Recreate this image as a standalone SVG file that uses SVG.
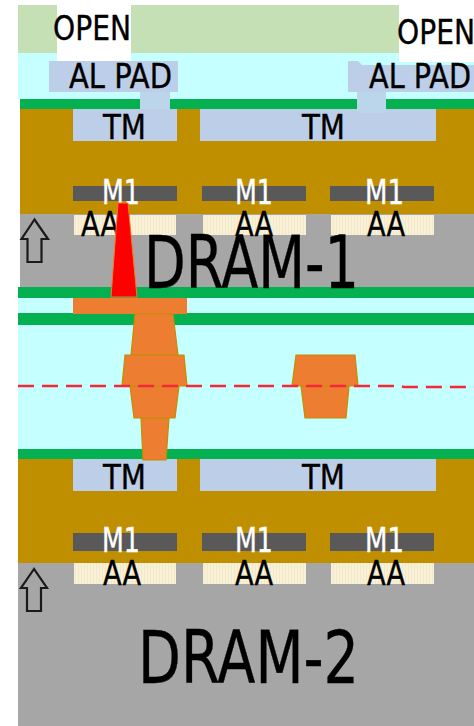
<svg xmlns="http://www.w3.org/2000/svg" width="474" height="726" viewBox="0 0 474 726">
<style>
text{font-family:"DejaVu Sans","Noto Sans",sans-serif;fill:#000;stroke:#000;stroke-width:.4px}
.t{font-size:34px}
.w{fill:#fff;stroke:#fff}
.big{font-size:73px}
.g{fill:#05B050}
.c{fill:#C5FFFF}
.b{fill:#BF8F00}
.y{fill:#A6A6A6}
.tm{fill:#BDCFE8}
.m{fill:#595959}
.aa{fill:url(#stripes)}
.o{fill:#ED7D31;stroke:#BF9000;stroke-width:1.2}
.a{fill:none;stroke:#1A1A1A;stroke-width:2.200}
</style>
<defs>
<pattern id="stripes" width="3" height="4" patternUnits="userSpaceOnUse">
<rect width="3" height="4" fill="#F9F0D8"/>
<rect width="1" height="4" fill="#F3E8C8"/>
</pattern>
</defs>
<rect width="474" height="726" fill="#fff"/>
<g id="top-layers">
<rect x="18" y="5" width="456" height="48" fill="#C5E0B4"/>
<rect class="c" x="18" y="53" width="456" height="46"/>
<rect x="57" y="5" width="74" height="57" fill="#fff"/>
<rect x="399" y="5" width="75" height="57" fill="#fff"/>
<rect class="tm" x="49" y="61" width="129" height="31"/>
<path class="tm" d="M348 61H358L362 65H474V92H348Z"/>
<rect class="b" x="20" y="109" width="454" height="105"/>
<rect class="g" x="20" y="99" width="454" height="10"/>
<rect class="tm" x="73" y="109" width="104" height="32"/>
<rect class="tm" x="200" y="109" width="236" height="32"/>
<rect x="140" y="92" width="30" height="17" fill="#BBD5EA"/>
<rect x="357" y="92" width="29" height="21" fill="#BBD5EA"/>
<rect class="m" x="73" y="186" width="104" height="15"/>
<rect class="m" x="202" y="186" width="104" height="15"/>
<rect class="m" x="330" y="186" width="104" height="15"/>
<rect class="y" x="20" y="214" width="454" height="73"/>
<rect class="aa" x="74" y="215" width="102" height="20"/>
<rect class="aa" x="203" y="215" width="103" height="20"/>
<rect class="aa" x="331" y="215" width="103" height="20"/>
</g>
<g id="middle-layers">
<rect class="c" x="18" y="298" width="456" height="151"/>
<rect class="g" x="18" y="287" width="456" height="11"/>
<rect class="g" x="18" y="313" width="456" height="12"/>
<rect class="g" x="18" y="449" width="456" height="10"/>
</g>
<g id="bottom-layers">
<rect class="b" x="18" y="459" width="456" height="104"/>
<rect class="y" x="18" y="563" width="456" height="163"/>
<rect class="tm" x="73" y="459" width="104" height="32"/>
<rect class="tm" x="200" y="459" width="236" height="32"/>
<rect class="m" x="73" y="533" width="104" height="18"/>
<rect class="m" x="202" y="533" width="104" height="18"/>
<rect class="m" x="330" y="533" width="104" height="18"/>
<rect class="aa" x="74" y="563" width="102" height="21"/>
<rect class="aa" x="203" y="563" width="103" height="21"/>
<rect class="aa" x="331" y="563" width="103" height="21"/>
</g>
<g id="labels">
<text class="t" x="53" y="40" textLength="78" lengthAdjust="spacingAndGlyphs">OPEN</text>
<text class="t" x="397" y="44" textLength="78" lengthAdjust="spacingAndGlyphs">OPEN</text>
<text class="t" x="69" y="88" textLength="103" lengthAdjust="spacingAndGlyphs">AL PAD</text>
<text class="t" x="369" y="88" textLength="102" lengthAdjust="spacingAndGlyphs">AL PAD</text>
<text class="t" x="103" y="139" textLength="43" lengthAdjust="spacingAndGlyphs">TM</text>
<text class="t" x="302" y="139" textLength="43" lengthAdjust="spacingAndGlyphs">TM</text>
<text class="t w" x="102" y="204" textLength="38" lengthAdjust="spacingAndGlyphs">M1</text>
<text class="t w" x="235" y="204" textLength="38" lengthAdjust="spacingAndGlyphs">M1</text>
<text class="t w" x="365" y="204" textLength="39" lengthAdjust="spacingAndGlyphs">M1</text>
<text class="t" x="81" y="236" textLength="38" lengthAdjust="spacingAndGlyphs">AA</text>
<text class="t" x="235" y="236" textLength="38" lengthAdjust="spacingAndGlyphs">AA</text>
<text class="t" x="367" y="236" textLength="38" lengthAdjust="spacingAndGlyphs">AA</text>
<text class="big" x="144" y="288" textLength="215" lengthAdjust="spacingAndGlyphs">DRAM-1</text>
<text class="t" x="103" y="489" textLength="43" lengthAdjust="spacingAndGlyphs">TM</text>
<text class="t" x="302" y="489" textLength="43" lengthAdjust="spacingAndGlyphs">TM</text>
<text class="t w" x="102" y="552" textLength="38" lengthAdjust="spacingAndGlyphs">M1</text>
<text class="t w" x="235" y="552" textLength="38" lengthAdjust="spacingAndGlyphs">M1</text>
<text class="t w" x="365" y="552" textLength="39" lengthAdjust="spacingAndGlyphs">M1</text>
<text class="t" x="103" y="585" textLength="38" lengthAdjust="spacingAndGlyphs">AA</text>
<text class="t" x="235" y="585" textLength="38" lengthAdjust="spacingAndGlyphs">AA</text>
<text class="t" x="367" y="585" textLength="38" lengthAdjust="spacingAndGlyphs">AA</text>
<text class="big" x="138" y="683" textLength="221" lengthAdjust="spacingAndGlyphs">DRAM-2</text>
</g>
<g id="arrows">
<path class="a" d="M34.500 219.500L21.500 239H27.500V262H41.500V239H48L34.500 219.500Z"/>
<path class="a" d="M34 569L21 588H27V611H41V588H47L34 569Z"/>
</g>
<g id="vias">
<path d="M118 203H128L137 297H111Z" fill="#FF0000" stroke="#ED7D31" stroke-width="1"/>
<rect x="73" y="298" width="114" height="16" fill="#ED7D31"/>
<path class="o" d="M135 314H173L178 355H131Z"/>
<path class="o" d="M141 418H169L166 460H143Z"/>
<path class="o" d="M130 386H179L175 418H134Z"/>
<path class="o" d="M125 355H184L187 386H122Z"/>
<path class="o" d="M301 386H349L346 418H305Z"/>
<path class="o" d="M296 355H355L358 386H292Z"/>
</g>
<g id="cut-line">
<path d="M18 386H400L404 387H474" fill="none" stroke="#F5283A" stroke-width="2.500" stroke-dasharray="16 8"/>
</g>
</svg>
